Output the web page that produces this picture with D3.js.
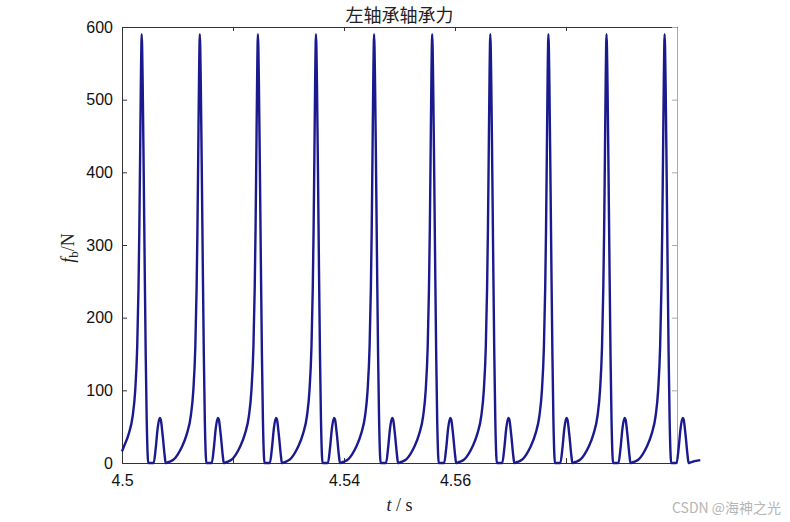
<!DOCTYPE html>
<meta charset="utf-8">
<style>
body { margin: 0; background: #fff; }
svg text { font-family: "Liberation Sans", Arial, sans-serif; }
.axis path, .axis line { stroke: #333; }
.axis text { font-size: 16px; fill: #111; }
</style>
<svg width="790" height="522"></svg>
<script src="https://d3js.org/d3.v7.min.js"></script>
<script>

var titleText = "左轴承轴承力";
var xTicks = [4.5, 4.52, 4.54, 4.56, 4.58, 4.6];
var xTickLabels = ["4.5", "", "4.54", "4.56", "", ""];
var yTicks = [0, 100, 200, 300, 400, 500, 600];

// time of each of the 10 big bearing-force peaks (s)
var peakTimes = [4.50355, 4.51402, 4.52449, 4.53495, 4.54542, 4.55589, 4.56636, 4.57683, 4.58730, 4.59777];

// one cycle of the force: ms relative to the peak, force in N
var cycleMs    = [-5.41, -4.68, -3.96, -3.24, -2.34, -1.62, -1.17, -0.81, -0.58, -0.43, -0.29, -0.14, 0,
                  0.18, 0.36, 0.54, 0.72, 0.90, 1.08, 1.17, 2.16, 2.52, 2.88, 3.24, 3.42, 3.78, 4.14, 4.32, 4.68];
var cycleForce = [2, 5, 12, 22, 40, 65, 100, 160, 240, 320, 420, 530, 590,
                  520, 400, 270, 150, 60, 10, 0, 0, 20, 48, 62, 60, 38, 10, 0, 1];

var startPoint = [4.5, 16];
var endPoint = [4.6042, 4];

var svg = d3.select("svg"),
    margin = {top: 27, right: 113, bottom: 59, left: 122},
    width = +svg.attr("width") - margin.left - margin.right,
    height = +svg.attr("height") - margin.top - margin.bottom;

var x = d3.scaleLinear().domain([4.5, 4.6]).range([0, width]);
var y = d3.scaleLinear().domain([0, 600]).range([height, 0]);

var g = svg.append("g").attr("transform", "translate(" + margin.left + "," + margin.top + ")");

// build the series from the cycle table
var points = [startPoint];
peakTimes.forEach(function(tp) {
  cycleMs.forEach(function(ms, i) {
    var t = tp + ms / 1000;
    if (t > startPoint[0] && t < endPoint[0]) points.push([t, cycleForce[i]]);
  });
});
points.push(endPoint);

// axes (MATLAB style box, ticks inward)
g.append("g").attr("class", "axis")
    .attr("transform", "translate(0," + height + ")")
    .call(d3.axisBottom(x).tickValues(xTicks).tickSizeInner(-5).tickSizeOuter(0).tickPadding(12)
      .tickFormat(function(d, i) { return xTickLabels[i]; }));

g.append("g").attr("class", "axis")
    .call(d3.axisTop(x).tickValues(xTicks).tickSizeInner(-4).tickSizeOuter(0).tickFormat(""));

g.append("g").attr("class", "axis")
    .call(d3.axisLeft(y).tickValues(yTicks).tickSizeInner(-5).tickSizeOuter(0).tickPadding(9));

var right = g.append("g").attr("class", "axis")
    .attr("transform", "translate(" + width + ",0)")
    .call(d3.axisRight(y).tickValues(yTicks).tickSizeInner(-5).tickSizeOuter(0).tickFormat(""));
right.selectAll("path, line").style("stroke", "#aaa");

var line = d3.line()
    .x(function(d) { return x(d[0]); })
    .y(function(d) { return y(d[1]); })
    .curve(d3.curveMonotoneX);

g.append("path")
    .datum(points)
    .attr("fill", "none")
    .attr("stroke", "#1a1a8e")
    .attr("stroke-width", 2.4)
    .attr("stroke-linejoin", "round")
    .attr("d", line);

// title
svg.append("text")
    .attr("x", margin.left + width / 2)
    .attr("y", 22)
    .attr("text-anchor", "middle")
    .style("font-family", "'Noto Sans CJK SC', sans-serif")
    .style("font-size", "18px")
    .style("fill", "#222")
    .text(titleText);

// x label
var xl = svg.append("text")
    .attr("x", margin.left + width / 2)
    .attr("y", 511)
    .attr("text-anchor", "middle")
    .style("font-family", "'Liberation Serif', serif")
    .style("font-size", "18px")
    .style("fill", "#222");
xl.append("tspan").style("font-style", "italic").text("t");
xl.append("tspan").text(" / s");

// y label
var yl = svg.append("text")
    .attr("transform", "translate(74,248) rotate(-90)")
    .attr("text-anchor", "middle")
    .style("font-family", "'Liberation Serif', serif")
    .style("font-size", "18px")
    .style("fill", "#222");
yl.append("tspan").style("font-style", "italic").text("f");
yl.append("tspan").attr("dy", 4).style("font-size", "13px").text("b");
yl.append("tspan").attr("dy", -4).text("/N");

// watermark
svg.append("text")
    .attr("x", 672)
    .attr("y", 513)
    .style("font-family", "'Noto Sans CJK SC', sans-serif")
    .style("font-size", "14px")
    .style("fill", "#b5b5b5")
    .text("CSDN @海神之光");

</script>
